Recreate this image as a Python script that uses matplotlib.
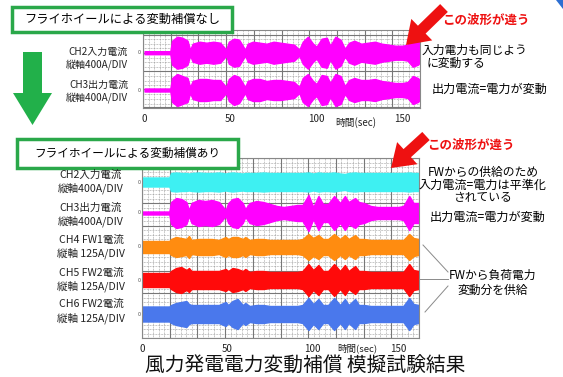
import numpy as np
import matplotlib
matplotlib.use('Agg')
import matplotlib.pyplot as plt
from matplotlib.patches import Rectangle, Polygon

plt.rcParams['font.family'] = ['Noto Sans CJK JP', 'DejaVu Sans']

# ---------------- data ----------------
x_ticks = [0, 50, 100, 150]

# top chart (no compensation): envelope half-amplitudes
T_TOP = [0, 15, 16, 19, 22, 25, 26.5, 28, 32, 36, 40, 44, 47.5, 49, 52, 55, 58.5, 60,
         63, 67, 71, 75, 79, 83, 87, 90, 92, 95, 98, 100, 103, 106, 108, 111, 114,
         116.5, 119, 122, 126, 130, 134, 138, 142, 146, 150, 153, 156, 159, 160]
TOP_CH2 = [1.5, 1.5, 12, 16, 15, 12, 3, 9, 11, 10, 11, 10, 3, 11, 14, 13, 3, 9,
           11, 10, 9, 11, 10, 9, 8, 3, 11, 16, 9, 6, 14, 15, 7, 16, 13,
           4, 10, 12, 9, 10, 11, 9, 8, 7, 7, 8, 14, 12, 10]
TOP_CH3 = [1.5, 1.5, 12, 16, 14, 12, 3, 9, 11, 11, 10, 10, 3, 11, 15, 13, 3, 9,
           11, 11, 9, 10, 10, 9, 8, 3, 12, 16, 9, 6, 15, 14, 7, 16, 14,
           4, 10, 12, 10, 10, 11, 9, 8, 7, 7, 8, 14, 12, 10]

# bottom chart (with flywheel compensation)
T_BOT = [0, 16, 17, 20, 23, 26, 27.5, 29, 33, 37, 41, 45, 49, 50.5, 53, 56, 59, 60.5,
         63, 67, 71, 75, 79, 83, 87, 91, 94, 97.5, 100.3, 103.3, 106, 109, 112.5, 116,
         118.8, 121, 124.8, 127, 130, 134, 138, 142, 146, 150, 153, 156.5, 159, 162]
BOT_CH2 = [4.5, 4.5, 9, 9.5, 9, 9, 8.5, 9, 9.5, 9, 9, 9.5, 8.5, 9, 9.5, 9, 8.5, 9,
           9, 9, 9.5, 9, 9, 9, 9, 9, 9, 9.5, 8.5, 9.5, 9, 9, 9.5, 8.5,
           8, 9, 9.5, 9, 9, 9, 9, 9, 9, 9, 9, 9.5, 9, 9]
BOT_CH3 = [1.5, 1.5, 11, 15, 14, 11, 3, 10, 13, 12, 13, 11, 3, 10, 14, 15, 10, 4,
           10, 12, 11, 9, 7, 6, 7, 8, 8, 18, 6, 17, 9, 9, 17, 10,
           17, 11, 15, 11, 10, 7, 6, 6, 6, 6, 7, 17, 10, 10]
BOT_CH4 = [6, 6, 8, 10, 9, 8, 11, 7, 8, 8, 8, 7, 10, 8, 10, 10, 8, 10,
           7, 8, 8, 7, 7, 7, 7, 7, 8, 13, 9, 12, 8, 8, 13, 8,
           12, 8, 12, 8, 8, 7, 7, 7, 7, 7, 7, 13, 9, 8]
BOT_CH5 = [7, 7, 9, 12, 13, 10, 12, 9, 9, 9, 9, 9, 11, 9, 12, 11, 9, 11,
           8, 9, 9, 8, 8, 8, 8, 8, 9, 16, 10, 15, 9, 9, 16, 9,
           15, 9, 14, 9, 9, 8, 8, 8, 8, 8, 8, 16, 10, 9]
BOT_CH6 = [7.5, 7.5, 9, 11, 12, 13, 10, 9, 9, 9, 9, 9, 12, 9, 13, 15, 9, 11,
           8, 9, 9, 8, 8, 8, 8, 8, 9, 16, 10, 15, 9, 9, 16, 9,
           15, 9, 15, 9, 9, 8, 8, 8, 8, 8, 8, 16, 10, 9]

# ---------------- figure ----------------
W, H = 563, 377
fig = plt.figure(figsize=(W / 100, H / 100), dpi=100)
fig.patch.set_facecolor('white')


def ax_at(l, t, r, b):
    return fig.add_axes([l / W, 1 - b / H, (r - l) / W, (b - t) / H])


def scope(ax, xlim, height, hmajor, hminor):
    ax.set_xlim(*xlim)
    ax.set_ylim(height, 0)
    for x in np.linspace(xlim[0], xlim[1], 51):
        ax.axvline(x, color='#8c8c8c', lw=0.5, ls=(0, (1, 1.2)), zorder=0)
    for x in np.linspace(xlim[0], xlim[1], 11):
        ax.axvline(x, color='#777777', lw=0.8, zorder=0.5)
    for y in hminor:
        ax.axhline(y, color='#8c8c8c', lw=0.5, ls=(0, (1, 1.2)), zorder=0)
    for y in hmajor:
        ax.axhline(y, color='#777777', lw=0.8, zorder=0.5)
    ax.set_xticks(x_ticks)
    ax.set_yticks([])
    ax.tick_params(axis='x', length=0, labelsize=7, pad=4.5, colors='#222222')
    for s in ax.spines.values():
        s.set_color('#888888')
        s.set_linewidth(0.8)


def trace(ax, t, amp, base, color):
    t = np.asarray(t, float)
    a = np.asarray(amp, float)
    ax.fill_between(t, base - a, base + a, color=color, lw=1.0, edgecolor=color, zorder=2)


# top chart
ax1 = ax_at(143, 30, 420, 108)
scope(ax1, (-0.9, 160.2), 78,
      hmajor=[4.5, 22.5, 41, 59, 77],
      hminor=np.arange(4.5, 78, 4.6))
trace(ax1, T_TOP, TOP_CH2, 22.7, '#ff00ff')
trace(ax1, T_TOP, TOP_CH3, 60, '#ff00ff')

# bottom chart
ax2 = ax_at(142, 158, 419, 338)
scope(ax2, (0, 162.2), 180,
      hmajor=np.arange(0, 181, 22.5),
      hminor=np.arange(0, 181, 4.5))
trace(ax2, T_BOT, BOT_CH2, 24, '#3ef0f2')
trace(ax2, T_BOT, BOT_CH3, 55, '#ff00ff')
trace(ax2, T_BOT, BOT_CH4, 89, '#ff8c10')
trace(ax2, T_BOT, BOT_CH5, 122, '#ff0a0a')
trace(ax2, T_BOT, BOT_CH6, 156, '#4a78ec')

# ---------------- overlay (pixel coordinates) ----------------
ov = fig.add_axes([0, 0, 1, 1], zorder=10)
ov.set_xlim(0, W)
ov.set_ylim(H, 0)
ov.axis('off')
ov.patch.set_alpha(0)

green = '#2aa84a'
ov.add_patch(Rectangle((12, 7), 220, 25, fc='white', ec=green, lw=2.5))
ov.text(122, 19.5, 'フライホイールによる変動補償なし', fontsize=8.8, ha='center', va='center')
ov.add_patch(Rectangle((17, 139), 221, 29, fc='white', ec=green, lw=2.5))
ov.text(127.5, 153.5, 'フライホイールによる変動補償あり', fontsize=8.4, ha='center', va='center')

# big green down arrow
ov.add_patch(Polygon([(23, 52), (42, 52), (42, 93), (52, 93), (32.5, 125), (13, 93), (23, 93)],
                     closed=True, fc='#22b04a', ec='none'))


def block_arrow(tail, tip, sw, hw, hl, color):
    tail = np.array(tail, float)
    tip = np.array(tip, float)
    d = tip - tail
    u = d / np.hypot(*d)
    n = np.array([-u[1], u[0]])
    base = tip - u * hl
    pts = [tail + n * sw / 2, base + n * sw / 2, base + n * hw / 2, tip,
           base - n * hw / 2, base - n * sw / 2, tail - n * sw / 2]
    ov.add_patch(Polygon(pts, closed=True, fc=color, ec='none'))


red = '#ee1111'
block_arrow((444, 8), (406, 45), 11, 30, 22, red)
block_arrow((426, 136), (391, 168), 11, 30, 22, red)
ov.text(442, 20, 'この波形が違う', fontsize=9, color=red, fontweight='bold', va='center')
ov.text(427, 145, 'この波形が違う', fontsize=9, color=red, fontweight='bold', va='center')

# right notes
ov.text(422, 50, '入力電力も同じよう', fontsize=8.5, va='center')
ov.text(427, 63, 'に変動する', fontsize=8.5, va='center')
ov.text(432, 89, '出力電流=電力が変動', fontsize=8.7, va='center')
ov.text(483, 172, 'FWからの供給のため', fontsize=8.5, ha='center', va='center')
ov.text(483, 185, '入力電流=電力は平準化', fontsize=8.7, ha='center', va='center')
ov.text(483, 198, 'されている', fontsize=8.5, ha='center', va='center')
ov.text(430, 217, '出力電流=電力が変動', fontsize=8.7, va='center')
ov.text(493, 275, 'FWから負荷電力', fontsize=8.5, ha='center', va='center')
ov.text(493, 290, '変動分を供給', fontsize=8.5, ha='center', va='center')
for (x0, y0, x1, y1) in [(423, 245, 448, 272), (419, 279, 448, 279), (425, 312, 448, 286)]:
    ov.plot([x0, x1], [y0, y1], color='#8a8a8a', lw=0.7)

# left channel labels
for y, s in [(52, 'CH2入力電流'), (65, '縦軸400A/DIV'), (85, 'CH3出力電流'), (98, '縦軸400A/DIV')]:
    ov.text(128, y, s, fontsize=7.2, ha='right', va='center', color='#222222')
for y, s in [(175, 'CH2入力電流'), (188, '縦軸400A/DIV'), (208, 'CH3出力電流'), (221, '縦軸400A/DIV'),
             (240, 'CH4 FW1電流'), (253, '縦軸 125A/DIV'), (273, 'CH5 FW2電流'), (286, '縦軸 125A/DIV'),
             (304, 'CH6 FW2電流'), (318, '縦軸 125A/DIV')]:
    ov.text(91, y, s, fontsize=7.6, ha='center', va='center', color='#222222')

# zero markers
for y in [52.7, 90, 182, 213, 247, 280, 314]:
    ov.text(140.5, y, '0', fontsize=4, ha='right', va='center', color='#555555')

# time labels
ov.text(356, 123, '時間(sec)', fontsize=7, ha='center', va='center', color='#222222')
ov.text(357, 348, '時間(sec)', fontsize=6.8, ha='center', va='center', color='#222222')

# title
ov.text(305, 366.5, '風力発電電力変動補償 模擬試験結果', fontsize=14.2, ha='center', va='center', color='#111111')

# small blue corner decoration
ov.add_patch(Polygon([(556, 0), (563, 0), (563, 9)], closed=True, fc='#2d6fd2', ec='none'))

fig.savefig('out.png', dpi=100, facecolor='white')
